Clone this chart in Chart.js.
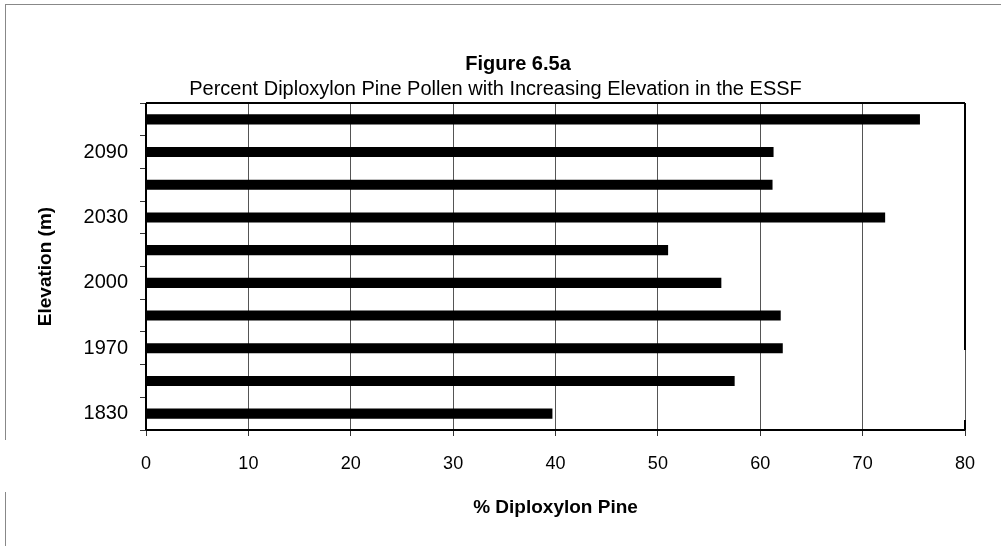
<!DOCTYPE html>
<html>
<head>
<meta charset="utf-8">
<script src="https://cdn.jsdelivr.net/npm/chart.js@4"></script>
<style>
html,body{margin:0;padding:0;background:#fff;}
#wrap{width:1001px;height:546px;position:relative;}
</style>
</head>
<body>
<div id="wrap"><canvas id="c"></canvas></div>
<script>
// Categories listed bottom to top (only every other elevation is labelled in the original)
const categories = ['1830', '', '1970', '', '2000', '', '2030', '', '2090', ''];
const percentDiploxylon = [39.7, 57.5, 62.2, 62.0, 56.2, 51.0, 72.2, 61.2, 61.3, 75.6];
const xTicks = [0, 10, 20, 30, 40, 50, 60, 70, 80];
const figureTitle = 'Figure 6.5a';

const FONT = "'Liberation Sans', Arial, Helvetica, sans-serif";

const framePlugin = {
  id: 'frame',
  beforeDraw(chart) {
    const ctx = chart.ctx;
    ctx.save();
    ctx.fillStyle = '#fff';
    ctx.fillRect(0, 0, chart.width, chart.height);
    ctx.strokeStyle = '#888';
    ctx.lineWidth = 1;
    ctx.beginPath();
    ctx.moveTo(5, 4.5); ctx.lineTo(chart.width, 4.5);
    ctx.moveTo(5.5, 4); ctx.lineTo(5.5, 440);
    ctx.moveTo(5.5, 492); ctx.lineTo(5.5, 546);
    ctx.stroke();
    ctx.restore();
  },
  afterDraw(chart) {
    const a = chart.chartArea;
    const ctx = chart.ctx;
    ctx.save();
    ctx.strokeStyle = '#000';
    ctx.lineWidth = 2;
    ctx.beginPath();
    ctx.moveTo(a.left, a.top); ctx.lineTo(a.right, a.top);
    ctx.moveTo(a.right, a.top); ctx.lineTo(a.right, a.top + (a.bottom - a.top) * 0.755);
    ctx.moveTo(a.right, a.bottom - 10); ctx.lineTo(a.right, a.bottom);
    ctx.moveTo(a.left, a.top); ctx.lineTo(a.left, a.bottom);
    ctx.moveTo(a.left, a.bottom); ctx.lineTo(a.right, a.bottom);
    ctx.stroke();
    // main figure title (offset right of the subtitle centre, as in the original)
    ctx.fillStyle = '#000';
    ctx.font = "bold 20px " + FONT;
    ctx.textAlign = 'center';
    ctx.textBaseline = 'middle';
    ctx.fillText(figureTitle, 518, 64);
    ctx.restore();
  }
};

new Chart(document.getElementById('c'), {
  type: 'bar',
  data: {
    labels: categories,
    datasets: [{
      data: percentDiploxylon,
      backgroundColor: '#000',
      borderWidth: 0,
      barPercentage: 0.31,
      categoryPercentage: 1.0
    }]
  },
  plugins: [framePlugin],
  options: {
    indexAxis: 'y',
    responsive: true,
    maintainAspectRatio: false,
    animation: false,
    layout: { padding: { left: 26, right: 36, top: 0, bottom: 14 } },
    plugins: {
      legend: { display: false },
      tooltip: { enabled: false },
      title: { display: false },
      subtitle: {
        display: true,
        text: 'Percent Diploxylon Pine Pollen with Increasing Elevation in the ESSF',
        color: '#000',
        font: { family: FONT, size: 20 },
        padding: { top: 77, bottom: 2 }
      }
    },
    scales: {
      x: {
        type: 'linear',
        min: 0,
        max: 80,
        afterBuildTicks(s) { s.ticks = xTicks.map(v => ({ value: v })); },
        afterFit(s) { s.height = 102; },
        ticks: { color: '#000', font: { family: FONT, size: 18 }, padding: 17, maxRotation: 0 },
        grid: { color: '#555', lineWidth: 1, drawTicks: true, tickLength: 6, tickColor: '#333' },
        border: { display: false },
        title: {
          display: true,
          text: '% Diploxylon Pine',
          color: '#000',
          font: { family: FONT, size: 19, weight: 'bold' },
          padding: { top: 0, bottom: 13 }
        }
      },
      y: {
        reverse: true,
        afterFit(s) { s.width = 120; },
        ticks: { color: '#000', font: { family: FONT, size: 20 }, padding: 12, autoSkip: false },
        grid: { drawOnChartArea: false, drawTicks: true, tickLength: 6, color: '#333', offset: true },
        border: { display: false },
        title: {
          display: true,
          text: 'Elevation (m)',
          color: '#000',
          font: { family: FONT, size: 19, weight: 'bold' },
          padding: { top: 8, bottom: 0 }
        }
      }
    }
  }
});
</script>
</body>
</html>
